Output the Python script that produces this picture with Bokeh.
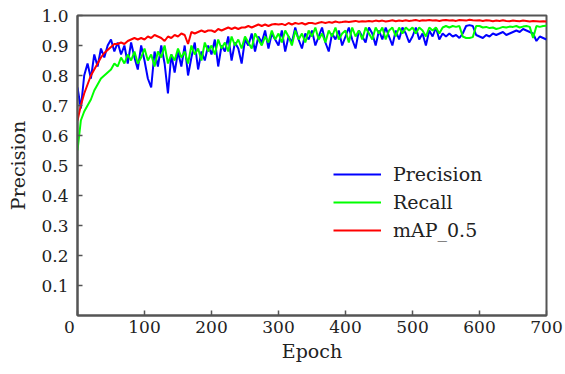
from bokeh.plotting import figure
from bokeh.models import Legend, LegendItem, FixedTicker, Range1d, PrintfTickFormatter
from bokeh.embed import file_html
from bokeh.resources import INLINE

epochs = list(range(0, 701, 5))

precision = [
    0.76, 0.69, 0.80, 0.84, 0.79, 0.87, 0.83, 0.89, 0.86, 0.90,
    0.92, 0.88, 0.91, 0.87, 0.90, 0.84, 0.91, 0.86, 0.82, 0.90,
    0.85, 0.79, 0.76, 0.88, 0.83, 0.90, 0.84, 0.74, 0.87, 0.81,
    0.88, 0.83, 0.90, 0.80, 0.86, 0.91, 0.82, 0.88, 0.85, 0.90,
    0.87, 0.92, 0.83, 0.90, 0.88, 0.93, 0.85, 0.91, 0.89, 0.84,
    0.92, 0.90, 0.94, 0.88, 0.93, 0.91, 0.95, 0.89, 0.94, 0.92,
    0.90, 0.95, 0.88, 0.93, 0.91, 0.96, 0.92, 0.89, 0.94, 0.92,
    0.95, 0.90, 0.93, 0.96, 0.91, 0.88, 0.94, 0.92, 0.95, 0.90,
    0.93, 0.96, 0.92, 0.89, 0.95, 0.93, 0.91, 0.96, 0.94, 0.90,
    0.95, 0.92, 0.96, 0.93, 0.90, 0.95, 0.92, 0.96, 0.94, 0.91,
    0.93, 0.96, 0.92, 0.94, 0.90, 0.95, 0.93, 0.96, 0.92, 0.94,
    0.93, 0.94, 0.93, 0.935, 0.925, 0.94, 0.965, 0.968, 0.965, 0.935,
    0.93, 0.925, 0.935, 0.93, 0.94, 0.935, 0.94, 0.945, 0.935, 0.94,
    0.945, 0.95, 0.945, 0.955, 0.95, 0.945, 0.94, 0.915, 0.93, 0.925,
    0.92,
]

recall = [
    0.55, 0.65, 0.68, 0.70, 0.72, 0.75, 0.77, 0.79, 0.80, 0.81,
    0.82, 0.84, 0.83, 0.86, 0.84, 0.87, 0.85, 0.88, 0.84, 0.86,
    0.89, 0.85, 0.87, 0.83, 0.88, 0.86, 0.90, 0.84, 0.87, 0.85,
    0.89, 0.86, 0.88, 0.84, 0.90, 0.87, 0.89, 0.85, 0.91, 0.88,
    0.90, 0.87, 0.92, 0.89, 0.91, 0.88, 0.93, 0.90, 0.92, 0.89,
    0.93, 0.91, 0.89, 0.94, 0.92, 0.90, 0.93, 0.91, 0.95, 0.92,
    0.94, 0.91, 0.95, 0.93, 0.90, 0.95, 0.92, 0.94, 0.91, 0.95,
    0.93, 0.96, 0.92, 0.94, 0.91, 0.95, 0.93, 0.96, 0.92, 0.94,
    0.95, 0.91, 0.96, 0.93, 0.95, 0.92, 0.96, 0.94, 0.92, 0.96,
    0.94, 0.96, 0.92, 0.95, 0.96, 0.93, 0.96, 0.94, 0.96, 0.95,
    0.96, 0.94, 0.96, 0.95, 0.93, 0.96, 0.95, 0.96, 0.94, 0.96,
    0.965, 0.96, 0.965, 0.962, 0.965, 0.93, 0.925, 0.925, 0.928, 0.965,
    0.965, 0.96, 0.962, 0.958, 0.96, 0.955, 0.958, 0.962, 0.96, 0.963,
    0.962, 0.965, 0.96, 0.963, 0.965, 0.962, 0.925, 0.965, 0.962, 0.965,
    0.966,
]

map50 = [
    0.65, 0.70, 0.74, 0.77, 0.80, 0.82, 0.84, 0.86, 0.875, 0.885,
    0.895, 0.905, 0.905, 0.91, 0.905, 0.915, 0.92, 0.925, 0.92, 0.925,
    0.92, 0.93, 0.925, 0.935, 0.93, 0.925, 0.915, 0.93, 0.925, 0.935,
    0.93, 0.94, 0.935, 0.905, 0.945, 0.94, 0.945, 0.95, 0.945, 0.95,
    0.95, 0.945, 0.955, 0.95, 0.955, 0.96, 0.955, 0.96, 0.955, 0.96,
    0.96, 0.965, 0.96, 0.965, 0.97, 0.965, 0.97, 0.965, 0.97, 0.972,
    0.97, 0.972, 0.968, 0.975, 0.97, 0.975, 0.972, 0.975, 0.97, 0.975,
    0.975, 0.972, 0.976, 0.978, 0.975, 0.978, 0.976, 0.98, 0.977, 0.978,
    0.98, 0.978, 0.98, 0.982, 0.979, 0.981, 0.98, 0.982, 0.98, 0.983,
    0.981, 0.983, 0.98, 0.982, 0.984, 0.981, 0.983, 0.982, 0.984, 0.982,
    0.983, 0.985, 0.982, 0.984, 0.983, 0.985, 0.983, 0.984, 0.982, 0.984,
    0.985, 0.983, 0.984, 0.982, 0.985, 0.984, 0.983, 0.986, 0.984, 0.983,
    0.984, 0.982, 0.984, 0.983, 0.981, 0.983, 0.982, 0.984, 0.982, 0.981,
    0.983, 0.982, 0.981, 0.983, 0.982, 0.98, 0.982, 0.981, 0.98, 0.981,
    0.98,
]

x_ticks = [0, 100, 200, 300, 400, 500, 600, 700]
y_ticks = [0.1, 0.2, 0.3, 0.4, 0.5, 0.6, 0.7, 0.8, 0.9, 1.0]

FONT = "DejaVu Serif"
AXIS_COLOR = "#555555"
TEXT_COLOR = "#222222"

p = figure(width=565, height=374, output_backend="svg", toolbar_location=None,
           x_range=Range1d(0, 700), y_range=Range1d(0, 1.0),
           min_border_left=77, min_border_right=19, min_border_top=15, min_border_bottom=59)

p.xgrid.visible = False
p.ygrid.visible = False
p.outline_line_color = AXIS_COLOR
p.outline_line_width = 2
p.background_fill_color = "white"
p.border_fill_color = "white"

for ax in (p.xaxis[0], p.yaxis[0]):
    ax.axis_line_color = AXIS_COLOR
    ax.axis_line_width = 2
    ax.major_tick_line_color = AXIS_COLOR
    ax.major_tick_line_width = 1.5
    ax.major_tick_in = 5
    ax.major_tick_out = 0
    ax.minor_tick_line_color = None
    ax.major_label_text_font = FONT
    ax.major_label_text_font_size = "17px"
    ax.major_label_text_color = TEXT_COLOR
    ax.axis_label_text_font = FONT
    ax.axis_label_text_font_size = "19px"
    ax.axis_label_text_font_style = "normal"
    ax.axis_label_text_color = TEXT_COLOR

p.xaxis.ticker = FixedTicker(ticks=x_ticks)
# shift the corner "0" label a little to the left, as in the original
p.xaxis.major_label_overrides = {0: "0\u00a0\u00a0\u00a0"}
p.yaxis.ticker = FixedTicker(ticks=y_ticks)
p.yaxis.formatter = PrintfTickFormatter(format="%.1f")
p.xaxis.axis_label = "Epoch"
p.yaxis.axis_label = "Precision"
p.xaxis.major_label_standoff = 1
p.yaxis.major_label_standoff = 9
p.xaxis.axis_label_standoff = 0
p.yaxis.axis_label_standoff = 9

r_p = p.line(epochs, precision, line_color="#0000FF", line_width=2)
r_r = p.line(epochs, recall, line_color="#00FF00", line_width=2)
r_m = p.line(epochs, map50, line_color="#FF0000", line_width=2)

legend = Legend(items=[LegendItem(label="Precision", renderers=[r_p]),
                       LegendItem(label="Recall", renderers=[r_r]),
                       LegendItem(label="mAP_0.5", renderers=[r_m])],
                location=(256, 71), padding=0, margin=0, spacing=0,
                glyph_width=48, glyph_height=28, label_height=28,
                label_standoff=12, border_line_color=None,
                background_fill_alpha=0,
                label_text_font=FONT, label_text_font_size="19px",
                label_text_color=TEXT_COLOR)
p.add_layout(legend)

open("out.html", "w").write(file_html(p, INLINE))
